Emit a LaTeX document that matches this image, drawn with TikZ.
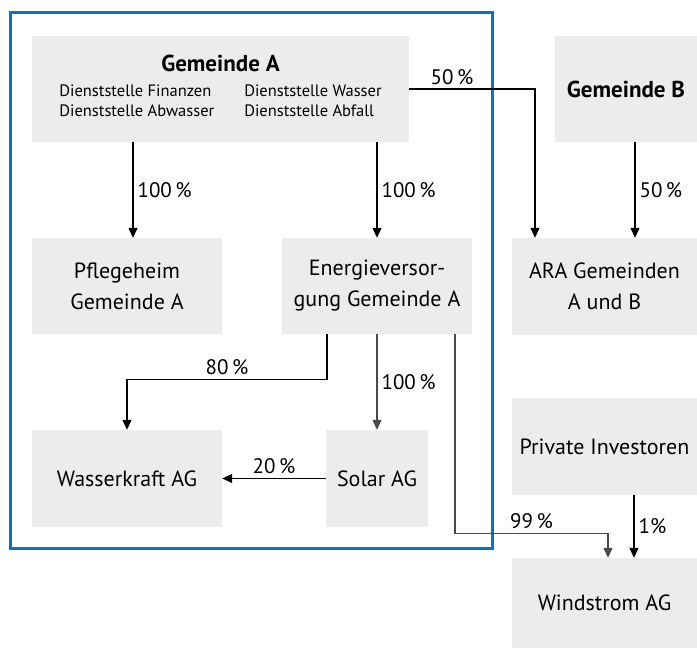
\documentclass[tikz,border=0pt]{standalone}
\usepackage{fontspec}
\setmainfont{PT Sans}
\usepackage{xcolor}
\usetikzlibrary{arrows.meta}

\definecolor{boxgray}{HTML}{EBECEC}
\definecolor{frameblue}{HTML}{1170B8}
\definecolor{darkline}{HTML}{4A4A4A}

\begin{document}
\begin{tikzpicture}[x=1pt, y=-1pt,
    unit/.style={fill=boxgray, inner sep=0pt, align=center,
      font=\fontsize{22}{31}\selectfont},
    pct/.style={font=\fontsize{21}{24}\selectfont, inner sep=4pt},
    link/.style={-{Triangle[length=10pt,width=9pt]}, line width=1.2pt}]
  % \draw[help lines, gray!50, very thin] (0,0) grid (697,648);
  \useasboundingbox (0,0) rectangle (697,648);

  % Gemeinde A group
  \draw[frameblue, line width=3pt] (10,12) rectangle (492,548);

  \node[unit, minimum width=377pt, minimum height=106pt] (gemA) at (220.5,89)
    {{\fontsize{23}{26}\selectfont\textbf{Gemeinde A}}\\[4pt]
     {\fontsize{16.5}{20}\selectfont
      \begin{tabular}{@{}l@{\hspace{30pt}}l@{}}
        Dienststelle Finanzen & Dienststelle Wasser\\
        Dienststelle Abwasser & Dienststelle Abfall
      \end{tabular}}};
  \node[unit, minimum width=142pt, minimum height=106pt] (gemB) at (626,89)
    {\fontsize{23}{26}\selectfont\textbf{Gemeinde B}};

  \node[unit, minimum width=190pt, minimum height=96pt] (pflege) at (127,286) {Pflegeheim\\Gemeinde A};
  \node[unit, minimum width=190pt, minimum height=96pt] (energie) at (377,286) {Energieversor-\\gung Gemeinde A};
  \node[unit, minimum width=185pt, minimum height=97pt] (ara) at (604.5,286.5) {ARA Gemeinden\\A und B};

  \node[unit, minimum width=190pt, minimum height=97pt] (wasser) at (127,478.5) {Wasserkraft AG};
  \node[unit, minimum width=102pt, minimum height=97pt] (solar) at (377,478.5) {Solar AG};

  \node[unit, minimum width=185pt, minimum height=97pt] (privat) at (604.5,446.5) {Private Investoren};
  \node[unit, minimum width=185pt, minimum height=90pt] (wind) at (604.5,603) {Windstrom AG};

  % shares
  \draw[link] ([xshift=6pt]pflege.north |- gemA.south) -- node[pct, right] {100\,\%} ([xshift=6pt]pflege.north);
  \draw[link] (energie.north |- gemA.south) -- node[pct, right] {100\,\%} (energie.north);
  \draw[link] (gemA.east) -| node[pct, above, pos=0.17] {50\,\%} ([xshift=-69.5pt]ara.north);
  \draw[link] ([xshift=30.5pt]ara.north |- gemB.south) -- node[pct, right] {50\,\%} ([xshift=30.5pt]ara.north);

  \draw[link] ([xshift=-50pt]energie.south) -- ++(0,45) -| node[pct, above, pos=0.25] {80\,\%} (wasser.north);
  \draw[link, darkline] (energie.south) -- node[pct, right, black] {100\,\%} (solar.north);
  \draw[link] (solar.west) -- node[pct, above] {20\,\%} (wasser.east);

  \draw[link, darkline] ([xshift=78pt]energie.south) -- ++(0,199) -| node[pct, above, pos=0.25, black] {99\,\%} ([xshift=3.5pt]wind.north);
  \draw[link] ([xshift=29.5pt]privat.south) -- node[pct, right] {1\%} ([xshift=29.5pt]wind.north);
\end{tikzpicture}
\end{document}
